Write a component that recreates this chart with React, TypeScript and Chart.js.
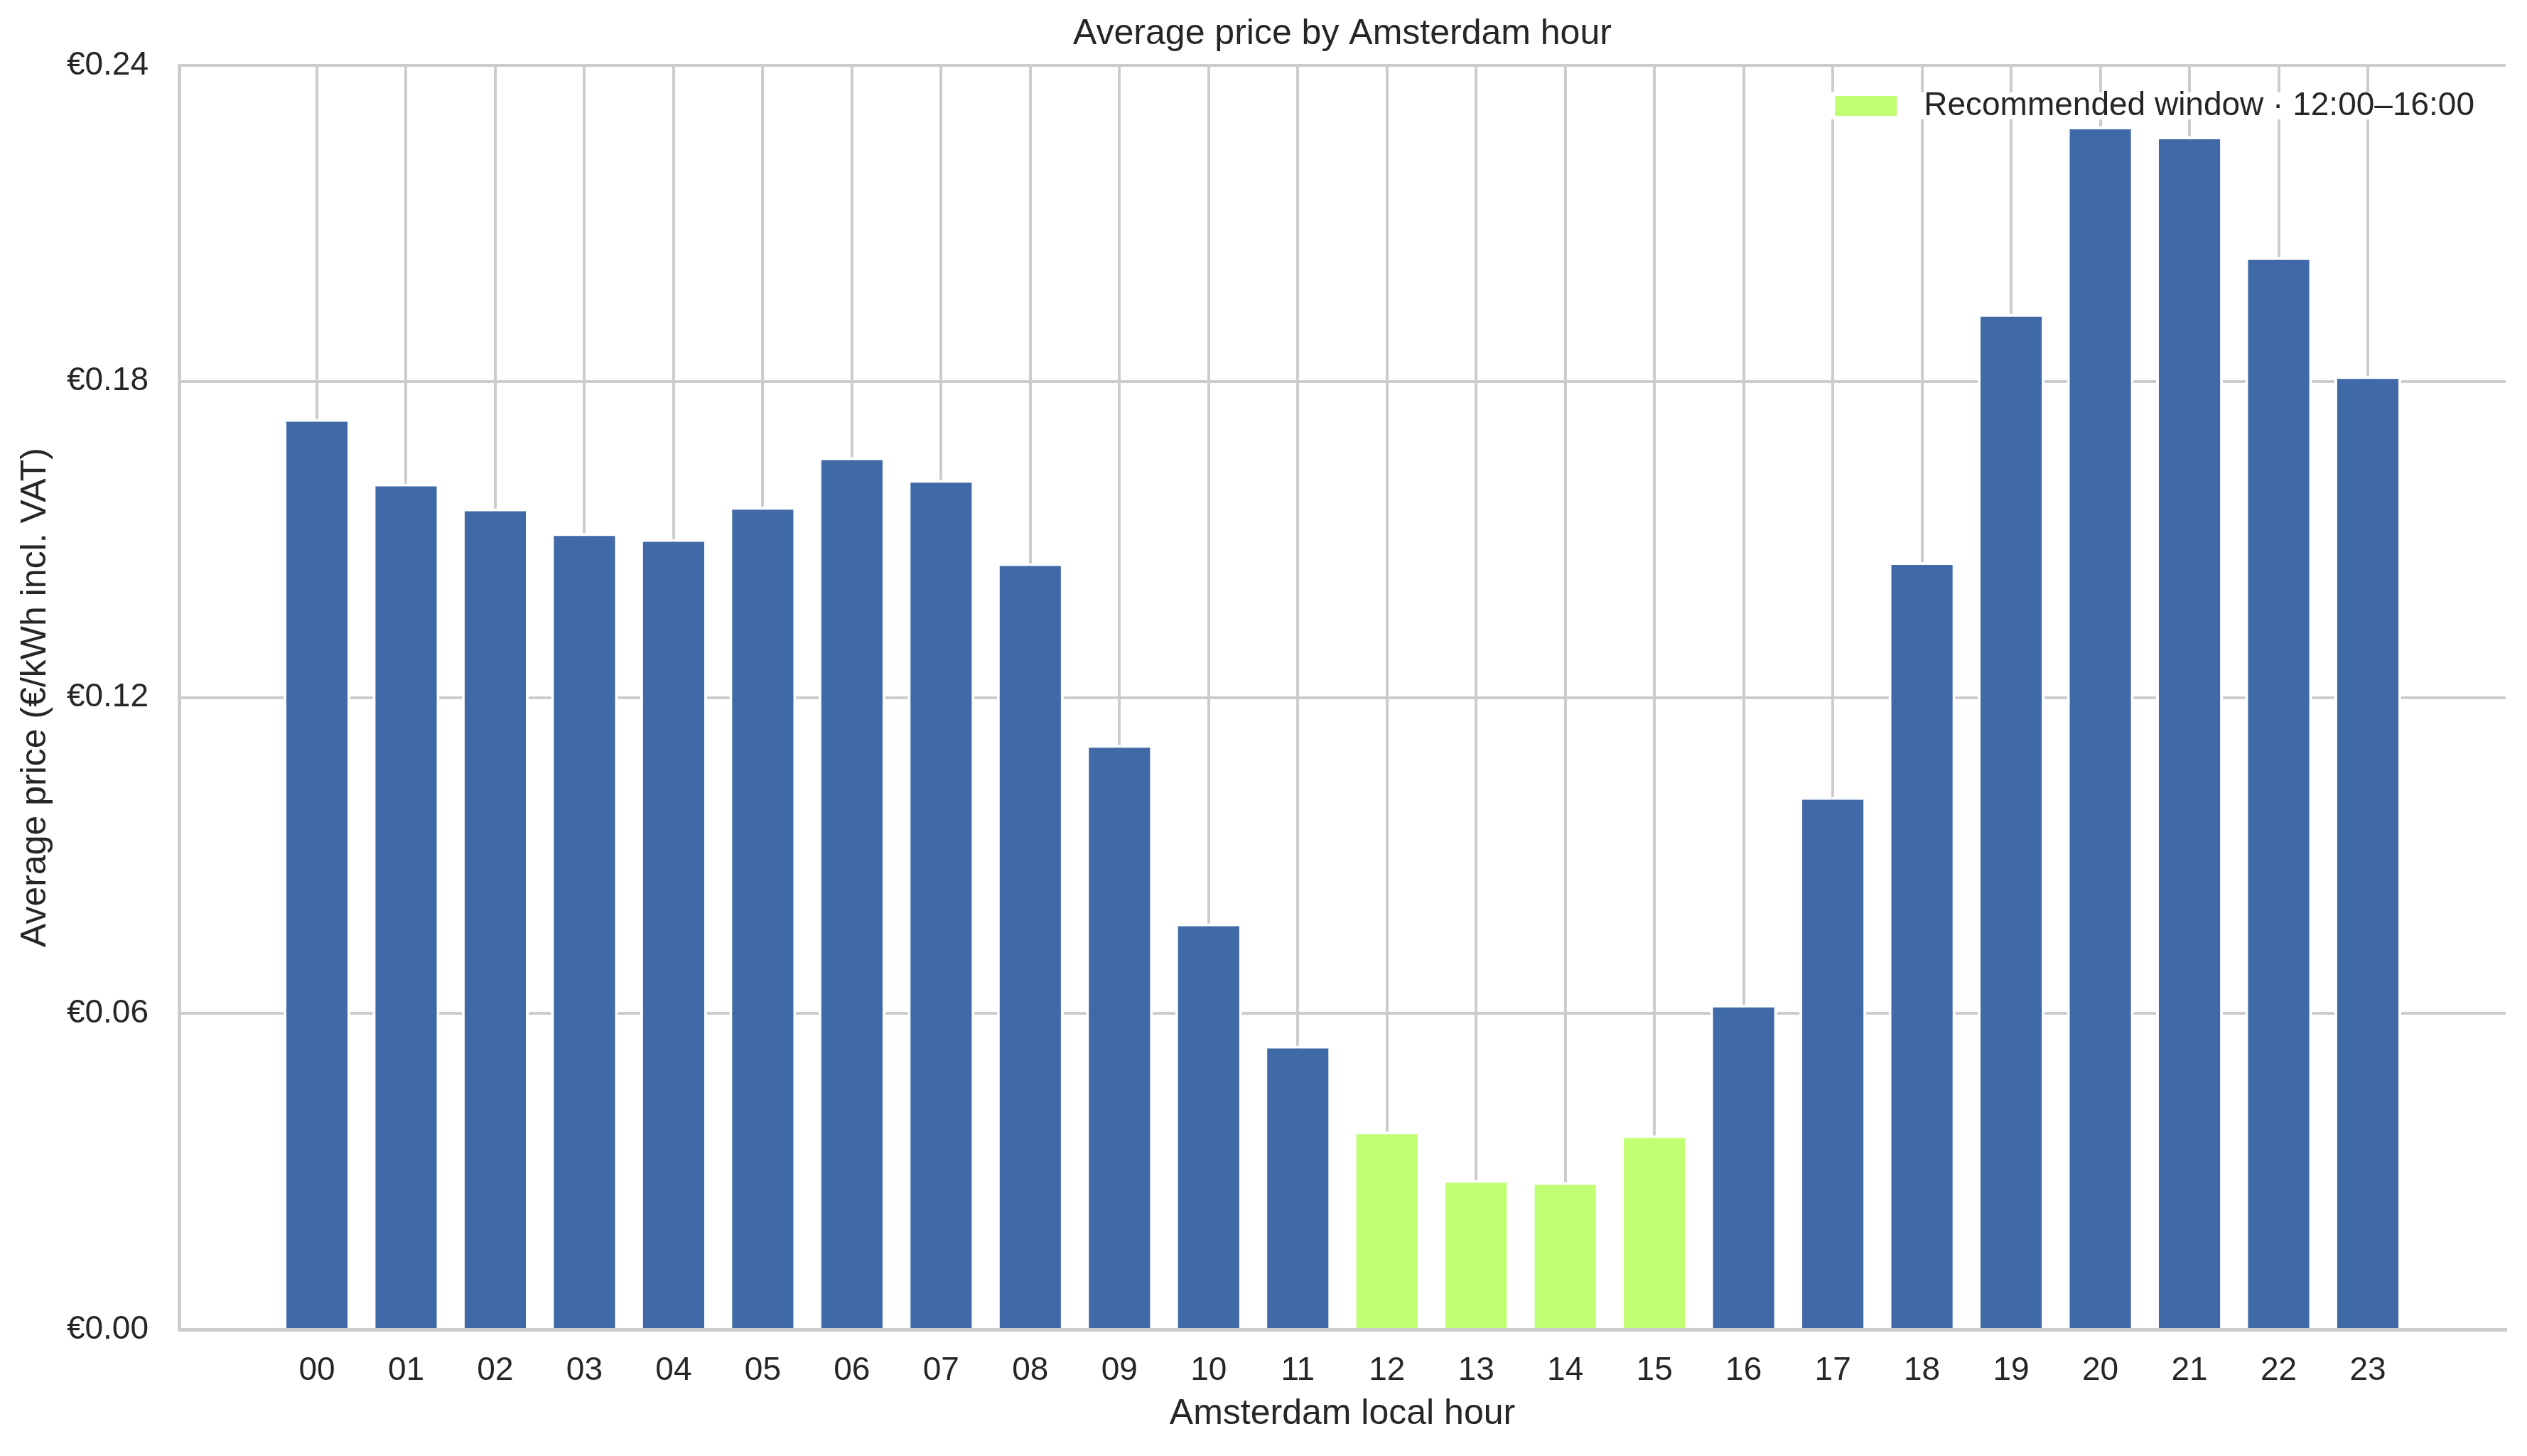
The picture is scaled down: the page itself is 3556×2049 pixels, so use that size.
import React, { useEffect, useRef } from 'react';
import { Chart, registerables } from 'chart.js';

Chart.register(...registerables);

// hourly averages
const hours = ['00', '01', '02', '03', '04', '05', '06', '07', '08', '09', '10', '11',
  '12', '13', '14', '15', '16', '17', '18', '19', '20', '21', '22', '23'];
const prices = [0.1729, 0.1606, 0.1559, 0.1512, 0.1501, 0.1562, 0.1656, 0.1613, 0.1455, 0.1110,
  0.0771, 0.0539, 0.0376, 0.0284, 0.0280, 0.0369, 0.0617, 0.1011, 0.1457, 0.1928,
  0.2284, 0.2265, 0.2036, 0.1810];
const windowHours = [12, 13, 14, 15];
const windowLabel = 'Recommended window · 12:00–16:00';
const yTicks = [0, 0.06, 0.12, 0.18, 0.24];

const BLUE = '#4069A7';
const GREEN = '#C1FF72';
const GRID = '#cccccc';
const TEXT = '#262626';
const FONT = '"Liberation Sans", Arial, sans-serif';

// legend in the top right corner of the plot, on a white patch
const cornerLegend = {
  id: 'cornerLegend',
  afterDatasetsDraw(chart: any) {
    const { ctx, chartArea } = chart;
    const ds = chart.data.datasets[1];
    ctx.save();
    ctx.font = '46px ' + FONT;
    const textW = ctx.measureText(ds.label).width;
    const textRight = chartArea.right - 44;
    const textX = textRight - textW;
    const midY = chartArea.top + 57;
    const boxW = 87;
    const boxH = 28;
    const boxX = textX - 38 - boxW;
    ctx.fillStyle = '#ffffff';
    ctx.fillRect(boxX - 6, midY - 19, textRight - boxX + 12, 38);
    ctx.fillStyle = ds.backgroundColor;
    ctx.fillRect(boxX, midY - boxH / 2, boxW, boxH);
    ctx.fillStyle = TEXT;
    ctx.textAlign = 'left';
    ctx.textBaseline = 'middle';
    ctx.fillText(ds.label, textX, midY);
    ctx.restore();
  }
};

function PriceChart() {
  const canvasRef = useRef<HTMLCanvasElement>(null);

  useEffect(() => {
    if (!canvasRef.current) return;

    const points = prices.map((v, i) => ({ x: i, y: v }));
    const regular = points.filter(p => !windowHours.includes(p.x));
    const recommended = points.filter(p => windowHours.includes(p.x));

    Chart.defaults.font.family = FONT;
    Chart.defaults.color = TEXT;

    const chart = new Chart(canvasRef.current, {
      type: 'bar',
      data: {
        datasets: [
          {
            label: 'Average price',
            data: regular,
            backgroundColor: BLUE,
            borderColor: '#ffffff',
            borderWidth: 4,
            grouped: false,
            categoryPercentage: 1,
            barPercentage: 0.75
          },
          {
            label: windowLabel,
            data: recommended,
            backgroundColor: GREEN,
            borderColor: '#ffffff',
            borderWidth: 4,
            grouped: false,
            categoryPercentage: 1,
            barPercentage: 0.75
          }
        ]
      },
      options: {
        animation: false,
        responsive: true,
        maintainAspectRatio: false,
        devicePixelRatio: 1,
        layout: { padding: { left: 0, right: 30, top: 0, bottom: 0 } },
        plugins: {
          title: {
            display: true,
            text: 'Average price by Amsterdam hour',
            fullSize: false,
            color: TEXT,
            font: { size: 50, weight: 'normal' },
            padding: { top: 18, bottom: 14 }
          },
          legend: { display: false },
          tooltip: { enabled: false }
        },
        scales: {
          x: {
            type: 'linear',
            min: -1.546,
            max: 24.546,
            offset: false,
            afterBuildTicks: (scale: any) => {
              scale.ticks = hours.map((_, i) => ({ value: i }));
            },
            afterFit: (scale: any) => {
              scale.height = 178;
            },
            ticks: {
              autoSkip: false,
              maxRotation: 0,
              padding: 31,
              color: TEXT,
              font: { size: 46 },
              callback: (value: any) => hours[value]
            },
            grid: { color: GRID, lineWidth: 4, drawTicks: false, offset: false },
            border: { color: GRID, width: 5 },
            title: {
              display: true,
              text: 'Amsterdam local hour',
              color: TEXT,
              font: { size: 50 },
              padding: { top: 0, bottom: 29 }
            }
          },
          y: {
            min: 0,
            max: 0.24,
            afterBuildTicks: (scale: any) => {
              scale.ticks = yTicks.map(v => ({ value: v }));
            },
            afterFit: (scale: any) => {
              scale.width = 252;
            },
            ticks: {
              padding: 43,
              color: TEXT,
              font: { size: 46 },
              callback: (value: any) => '€' + Number(value).toFixed(2)
            },
            grid: { color: GRID, lineWidth: 4, drawTicks: false },
            border: { color: GRID, width: 5 },
            title: {
              display: true,
              text: 'Average price (€/kWh incl. VAT)',
              color: TEXT,
              font: { size: 50 },
              padding: { top: 20, bottom: 0 }
            }
          }
        }
      },
      plugins: [cornerLegend]
    } as any);

    return () => {
      chart.destroy();
    };
  }, []);

  return (
    <div style={{ position: 'fixed', left: 0, top: 0, width: 3556, height: 2049, background: '#ffffff' }}>
      <canvas ref={canvasRef}></canvas>
    </div>
  );
}

export default function App() {
  return <PriceChart />;
}
